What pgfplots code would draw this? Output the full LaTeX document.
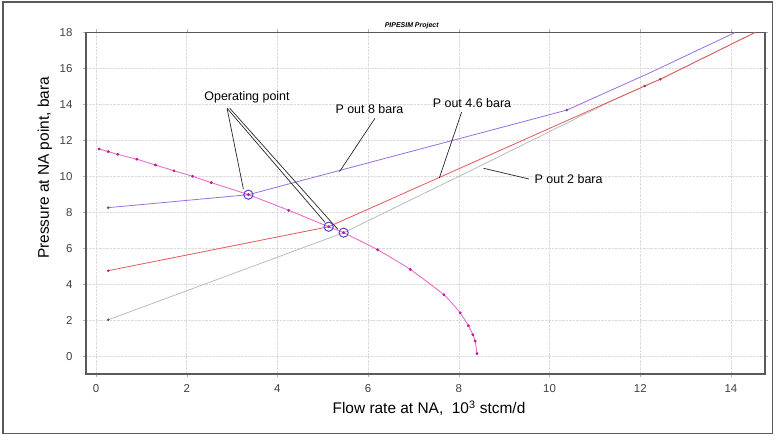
\documentclass[border=0pt]{standalone}
\usepackage{fontspec}
\setmainfont{Liberation Sans}
\usepackage{pgfplots}
\pgfplotsset{compat=1.18}

\definecolor{iprline}{RGB}{232,110,205}
\definecolor{iprmark}{RGB}{190,20,150}
\definecolor{p8}{RGB}{150,110,225}
\definecolor{p46}{RGB}{235,85,90}
\definecolor{p2}{RGB}{178,192,185}
\definecolor{opc}{RGB}{80,70,200}
\definecolor{frame}{RGB}{90,90,90}

\begin{document}
\begin{tikzpicture}[x=1bp,y=1bp]
\useasboundingbox (0,0) rectangle (775,436);
\draw[frame, line width=1.2bp] (3,2.5) rectangle (772.5,434);

\begin{axis}[
  at={(86bp,62bp)}, anchor=south west,
  scale only axis, width=679bp, height=341.5bp,
  xmin=-0.22, xmax=14.75, ymin=-0.97, ymax=18,
  xtick={0,2,...,14}, ytick={0,2,...,18},
  grid=major,
  major grid style={densely dotted, gray!28},
  axis line style={frame, line width=1.3bp},
  tick align=outside, major tick length=3bp,
  tick style={gray!60},
  ticklabel style={font=\fontsize{11.5}{13}\selectfont, text=black!75},
  /pgf/number format/assume math mode=true,
  yticklabel style={xshift=-7bp},
  xticklabel style={yshift=-4bp},
]
% gray line, P out 2 bara
\addplot[p2, line width=0.8bp] coordinates {
  (0.27,2.04) (5.46,6.88) (8.4,10.5) (11.4,14.24) (12.1,15.03) (12.44,15.40) (14.53,18.0)
};
\addplot[only marks, mark=*, mark size=1.1bp, gray!70!black] coordinates {(0.27,2.04)};

% red line, P out 4.6 bara
\addplot[p46, line width=0.8bp] coordinates {
  (0.27,4.77) (5.13,7.21) (12.1,15.03) (12.44,15.40) (14.53,18.0)
};
\addplot[only marks, mark=*, mark size=1.1bp, p46!70!black] coordinates {
  (0.27,4.77) (12.1,15.03) (12.44,15.40)
};

% purple line, P out 8 bara
\addplot[p8, line width=0.8bp] coordinates {
  (0.27,8.27) (3.36,8.99) (10.38,13.69) (12.22,15.77) (14.09,18.0)
};
\addplot[only marks, mark=*, mark size=1.1bp, p8!70!black] coordinates {
  (0.27,8.27) (10.38,13.69)
};

% inflow curve
\addplot[iprline, line width=0.9bp, smooth, tension=0.3] coordinates {
  (0.07,11.53) (0.27,11.38) (0.48,11.23) (0.90,10.96) (1.31,10.64) (1.72,10.32)
  (2.13,10.01) (2.54,9.66) (3.36,8.99) (4.25,8.12) (5.13,7.21) (5.46,6.88)
  (6.21,5.93) (6.93,4.84) (7.67,3.43) (8.03,2.43) (8.21,1.71) (8.31,1.21)
  (8.36,0.86) (8.40,0.16)
};
\addplot[only marks, mark=*, mark size=1.2bp, iprmark] coordinates {
  (0.07,11.53) (0.27,11.38) (0.48,11.23) (0.90,10.96) (1.31,10.64) (1.72,10.32)
  (2.13,10.01) (2.54,9.66) (4.25,8.12)
  (6.21,5.93) (6.93,4.84) (7.67,3.43) (8.03,2.43) (8.21,1.71) (8.31,1.21)
  (8.36,0.86) (8.40,0.16)
};

% operating points
\addplot[only marks, mark=o, mark size=4.6bp, opc, mark options={line width=1bp}] coordinates {
  (3.36,8.99) (5.13,7.21) (5.46,6.88)
};
\addplot[only marks, mark=*, mark size=1.3bp, iprmark] coordinates {
  (3.36,8.99) (5.13,7.21) (5.46,6.88)
};

% annotations
\node[font=\fontsize{12.5}{14}\selectfont] at (axis cs:3.33,14.40) {Operating point};
\draw[black!85, line width=0.7bp] (axis cs:2.89,13.79) -- (axis cs:3.25,9.30);
\draw[black!85, line width=0.7bp] (axis cs:2.89,13.79) -- (axis cs:5.05,7.45);
\draw[black!85, line width=0.7bp] (axis cs:2.95,13.79) -- (axis cs:5.33,7.07);

\node[font=\fontsize{12.5}{14}\selectfont] at (axis cs:6.03,13.75) {P out 8 bara};
\draw[black!85, line width=0.7bp] (axis cs:6.15,13.23) -- (axis cs:5.37,10.27);

\node[font=\fontsize{12.5}{14}\selectfont] at (axis cs:8.29,14.07) {P out 4.6 bara};
\draw[black!85, line width=0.7bp] (axis cs:8.06,13.57) -- (axis cs:7.57,9.92);

\node[font=\fontsize{12.5}{14}\selectfont] at (axis cs:10.42,9.84) {P out 2 bara};
\draw[black!85, line width=0.7bp] (axis cs:9.55,9.86) -- (axis cs:8.54,10.46);
\end{axis}

\node[font=\fontsize{7}{8}\selectfont\bfseries\itshape] at (411.7,410.3) {PIPESIM Project};
\node[font=\fontsize{15.5}{17}\selectfont] at (429,28) {Flow rate at NA,\ \ 10\textsuperscript{3} stcm/d};
\node[font=\fontsize{15.5}{17}\selectfont, rotate=90] at (45,268) {Pressure at NA point, bara};
\end{tikzpicture}
\end{document}
